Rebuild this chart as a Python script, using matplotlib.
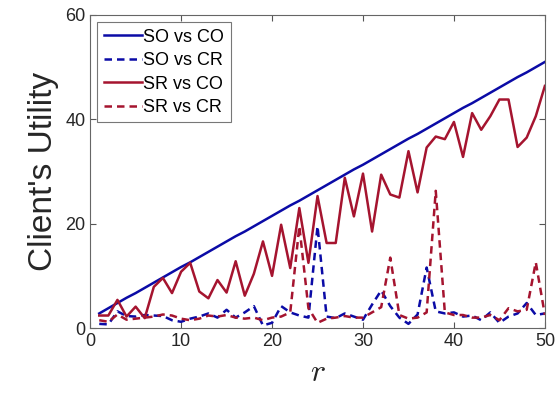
import matplotlib.pyplot as plt

plt.rcParams['font.family'] = ['Liberation Sans', 'DejaVu Sans']
plt.rcParams['mathtext.fontset'] = 'cm'

# round index r = 1..50
r = list(range(1, 51))

so_vs_co = [2.8, 3.8, 4.8, 5.8, 6.7, 7.7, 8.7, 9.7, 10.7, 11.7,
            12.6, 13.6, 14.6, 15.6, 16.6, 17.6, 18.5, 19.5, 20.5, 21.5,
            22.5, 23.5, 24.4, 25.4, 26.4, 27.4, 28.4, 29.4, 30.4, 31.3,
            32.3, 33.3, 34.3, 35.3, 36.3, 37.2, 38.2, 39.2, 40.2, 41.2,
            42.2, 43.1, 44.1, 45.1, 46.1, 47.1, 48.1, 49.0, 50.0, 51.0]

so_vs_cr = [0.8, 0.7, 3.2, 2.3, 2.2, 2.5, 2.4, 2.3, 1.5, 1.2,
            1.8, 2.2, 2.8, 2.0, 3.5, 2.0, 3.0, 4.2, 0.5, 1.0,
            4.2, 3.0, 2.4, 2.0, 19.5, 2.2, 1.9, 2.8, 2.2, 1.6,
            4.5, 7.2, 4.2, 2.0, 0.8, 2.6, 11.6, 3.2, 2.8, 3.0,
            2.2, 2.4, 1.5, 3.0, 1.0, 2.2, 2.8, 4.8, 2.5, 2.8]

sr_vs_co = [2.4, 2.4, 5.4, 2.2, 4.1, 1.9, 7.9, 9.6, 6.7, 10.8,
            12.5, 7.0, 5.7, 9.2, 6.8, 12.8, 6.2, 10.4, 16.6, 10.0,
            19.8, 11.5, 23.0, 12.5, 25.3, 16.3, 16.3, 28.8, 21.4, 29.6,
            18.5, 29.4, 25.6, 25.0, 33.9, 26.0, 34.6, 36.7, 36.2, 39.5,
            32.8, 41.2, 38.0, 40.6, 43.8, 43.8, 34.7, 36.5, 40.6, 46.4]

sr_vs_cr = [1.5, 1.2, 2.6, 1.6, 1.8, 2.0, 2.2, 2.6, 2.4, 1.8,
            1.5, 1.8, 2.4, 2.2, 2.5, 2.0, 1.8, 2.0, 1.5, 2.0,
            2.2, 3.0, 19.5, 3.8, 1.0, 1.8, 2.0, 2.3, 2.0, 2.0,
            3.0, 4.0, 13.5, 2.5, 1.8, 2.0, 3.0, 26.3, 3.0, 2.5,
            2.5, 2.0, 2.0, 2.5, 1.5, 3.8, 3.2, 3.5, 12.6, 2.5]

blue = '#0b0ba6'
red = '#a5142f'
dash = (0, (3.0, 2.0))

fig = plt.figure(figsize=(5.6, 4.05), dpi=100)
ax = fig.add_axes([0.161, 0.19, 0.812, 0.773])

ax.plot(r, so_vs_co, color=blue, lw=1.8, label='SO vs CO')
ax.plot(r, so_vs_cr, color=blue, lw=1.8, ls=dash, label='SO vs CR')
ax.plot(r, sr_vs_co, color=red, lw=1.8, label='SR vs CO')
ax.plot(r, sr_vs_cr, color=red, lw=1.8, ls=dash, label='SR vs CR')

ax.set_xlim(0, 50)
ax.set_ylim(0, 60)
ax.set_xticks([0, 10, 20, 30, 40, 50])
ax.set_yticks([0, 20, 40, 60])
ax.tick_params(direction='in', top=True, right=True, length=4,
               labelsize=13, color='#555555', labelcolor='#262626')
for s in ax.spines.values():
    s.set_color('#666666')
    s.set_linewidth(0.8)

ax.set_xlabel('$r$', fontsize=23, color='#262626', labelpad=6)
ax.set_ylabel("Client's Utility", fontsize=24, color='#262626', labelpad=4)

leg = ax.legend(loc='upper left', fontsize=13, handlelength=2.1,
                handletextpad=0.1, labelspacing=0.36, borderpad=0.35,
                borderaxespad=0.4, fancybox=False, framealpha=1)
leg.get_frame().set_edgecolor('#777777')
leg.get_frame().set_linewidth(0.8)

fig.savefig('out.png', dpi=100)
